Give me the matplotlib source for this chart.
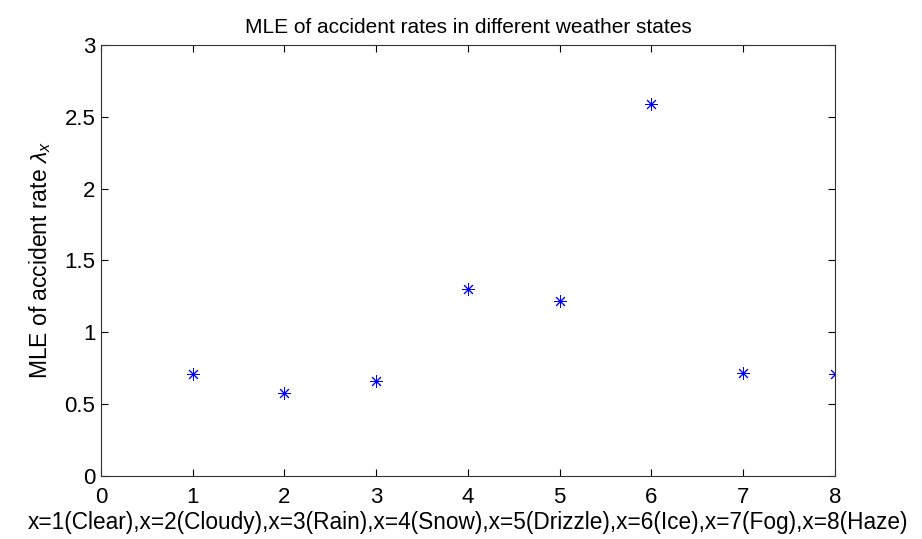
import matplotlib
matplotlib.use("Agg")
import matplotlib.pyplot as plt

# weather states (x index) and MLE of accident rate
states = [1, 2, 3, 4, 5, 6, 7, 8]
rates = [0.71, 0.58, 0.66, 1.30, 1.22, 2.59, 0.72, 0.71]

xticks = [0, 1, 2, 3, 4, 5, 6, 7, 8]
yticks = [0, 0.5, 1, 1.5, 2, 2.5, 3]
yticklabels = ["0", "0.5", "1", "1.5", "2", "2.5", "3"]

plt.rcParams["font.family"] = ["Liberation Sans", "DejaVu Sans"]
plt.rcParams["mathtext.fontset"] = "custom"
plt.rcParams["mathtext.rm"] = "Liberation Sans"
plt.rcParams["mathtext.it"] = "Liberation Sans:italic"

fig = plt.figure(figsize=(9.22, 5.39), dpi=100)
ax = fig.add_axes([0.1095, 0.1169, 0.7961, 0.7996])

# MATLAB-style '*' marker: 8-armed asterisk
ax.plot(states, rates, linestyle="none", marker=(8, 2, 0), color="#0000ff",
        markersize=9, markeredgewidth=0.7)

ax.set_xlim(0, 8)
ax.set_ylim(0, 3)
ax.set_xticks(xticks)
ax.set_yticks(yticks)
ax.set_yticklabels(yticklabels)
ax.tick_params(direction="in", top=True, right=True, labelsize=16, length=5, width=0.8)
ax.tick_params(axis="x", pad=8)
ax.tick_params(axis="y", pad=4)
for s in ax.spines.values():
    s.set_linewidth(0.8)
    s.set_color("#333333")

ax.set_xlabel("x=1(Clear),x=2(Cloudy),x=3(Rain),x=4(Snow),x=5(Drizzle),x=6(Ice),x=7(Fog),x=8(Haze)",
              fontsize=16.3, labelpad=2)
ax.set_ylabel(r"MLE of accident rate $\lambda_x$", fontsize=16.5, labelpad=8)
ax.set_title("MLE of accident rates in different weather states", fontsize=15, pad=9)

fig.savefig("out.png", dpi=100)
